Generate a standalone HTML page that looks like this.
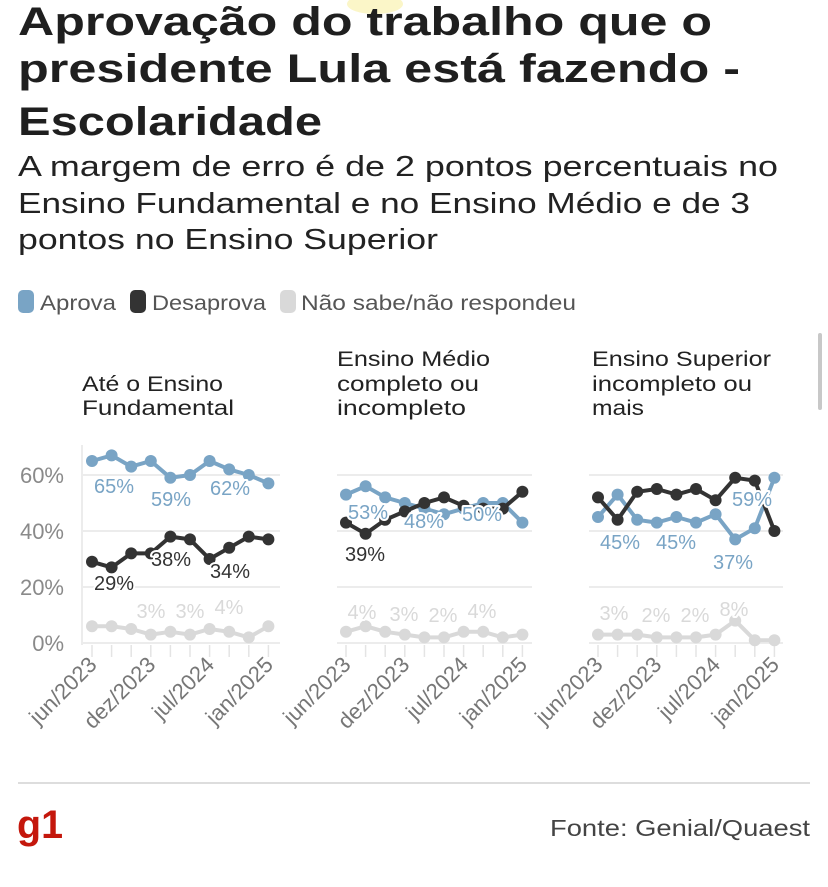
<!DOCTYPE html>
<html><head><meta charset="utf-8"><style>
html,body{margin:0;padding:0;background:#fff;width:828px;height:887px;overflow:hidden}
svg{display:block;font-family:"Liberation Sans",sans-serif}
</style></head><body>
<svg id="s" width="828" height="887" viewBox="0 0 828 887" xmlns="http://www.w3.org/2000/svg">
<ellipse cx="375" cy="4" rx="28" ry="10" fill="#fbf6c8"/>
<g fill="#1f1f1f" font-weight="bold" font-size="40">
<text x="18" y="35" textLength="694" lengthAdjust="spacingAndGlyphs">Aprovação do trabalho que o</text>
<text x="18" y="82" textLength="722" lengthAdjust="spacingAndGlyphs">presidente Lula está fazendo -</text>
<text x="18" y="135" textLength="304" lengthAdjust="spacingAndGlyphs">Escolaridade</text>
</g>
<g fill="#222" font-size="29">
<text x="18" y="176" textLength="760" lengthAdjust="spacingAndGlyphs">A margem de erro é de 2 pontos percentuais no</text>
<text x="18" y="213" textLength="732" lengthAdjust="spacingAndGlyphs">Ensino Fundamental e no Ensino Médio e de 3</text>
<text x="18" y="249" textLength="420" lengthAdjust="spacingAndGlyphs">pontos no Ensino Superior</text>
</g>
<g font-size="21" fill="#555">
<rect x="18" y="290" width="16" height="23" rx="5" fill="#79a4c5"/>
<text x="40" y="310" textLength="76" lengthAdjust="spacingAndGlyphs">Aprova</text>
<rect x="130" y="290" width="16" height="23" rx="5" fill="#333"/>
<text x="152" y="310" textLength="114" lengthAdjust="spacingAndGlyphs">Desaprova</text>
<rect x="280" y="290" width="16" height="23" rx="5" fill="#d9d9d9"/>
<text x="301" y="310" textLength="275" lengthAdjust="spacingAndGlyphs">Não sabe/não respondeu</text>
</g>
<rect x="818" y="333" width="4" height="77" rx="2" fill="#c8c8c8"/>
<g font-size="21" fill="#222">
<text x="82" y="391" textLength="141" lengthAdjust="spacingAndGlyphs">Até o Ensino</text>
<text x="82" y="415" textLength="152" lengthAdjust="spacingAndGlyphs">Fundamental</text>
<text x="337" y="366" textLength="153" lengthAdjust="spacingAndGlyphs">Ensino Médio</text>
<text x="337" y="391" textLength="142" lengthAdjust="spacingAndGlyphs">completo ou</text>
<text x="337" y="415" textLength="129" lengthAdjust="spacingAndGlyphs">incompleto</text>
<text x="592" y="366" textLength="179" lengthAdjust="spacingAndGlyphs">Ensino Superior</text>
<text x="592" y="391" textLength="160" lengthAdjust="spacingAndGlyphs">incompleto ou</text>
<text x="592" y="415" textLength="52" lengthAdjust="spacingAndGlyphs">mais</text>
</g>
<g id="charts"></g>
<line x1="18" y1="783" x2="810" y2="783" stroke="#ddd" stroke-width="2"/>
<text x="17" y="838" font-size="40" font-weight="bold" fill="#c4170c" textLength="46" lengthAdjust="spacingAndGlyphs">g1</text>
<text x="810" y="836" font-size="23" fill="#444" text-anchor="end" textLength="260" lengthAdjust="spacingAndGlyphs">Fonte: Genial/Quaest</text>
</svg>
<script>
var NS="http://www.w3.org/2000/svg",g=document.getElementById("charts");
function el(t,a,txt){var e=document.createElementNS(NS,t);for(var k in a)e.setAttribute(k,a[k]);if(txt)e.textContent=txt;g.appendChild(e);return e;}
function Y(v){return 643-v*2.8;}
var panels=[
{x0:92,gl:82,gr:280,axis:true,
 s:[[65,67,63,65,59,60,65,62,60,57],[29,27,32,32,38,37,30,34,38,37],[6,6,5,3,4,3,5,4,2,6]],
 L:[[0,"65%",114,492],[0,"59%",171,505],[0,"62%",230,494],[1,"29%",114,589],[1,"38%",171,565],[1,"34%",230,577],[2,"3%",151,617],[2,"3%",190,617],[2,"4%",229,613]]},
{x0:346,gl:337,gr:532,
 s:[[53,56,52,50,48,46,48,50,50,43],[43,39,44,47,50,52,49,48,48,54],[4,6,4,3,2,2,4,4,2,3]],
 L:[[0,"53%",368,518],[0,"48%",424,527],[0,"50%",482,520],[1,"39%",365,560],[2,"4%",362,618],[2,"3%",404,620],[2,"2%",443,621],[2,"4%",482,617]]},
{x0:598,gl:589,gr:783,
 s:[[45,53,44,43,45,43,46,37,41,59],[52,44,54,55,53,55,51,59,58,40],[3,3,3,2,2,2,3,8,1,1]],
 L:[[0,"45%",620,548],[0,"45%",676,548],[0,"37%",733,568],[0,"59%",752,505],[2,"3%",614,619],[2,"2%",656,621],[2,"2%",695,621],[2,"8%",734,615]]}
];
var cols=["#79a4c5","#333333","#d9d9d9"],ticks=["jun/2023","dez/2023","jul/2024","jan/2025"];
panels.forEach(function(p){
 [0,20,40,60].forEach(function(v){el("line",{x1:p.gl,x2:p.gr,y1:Y(v),y2:Y(v),stroke:"#ececec","stroke-width":2});
  if(p.axis)el("text",{x:64,y:Y(v)+8,"font-size":22,fill:"#8a8a8a","text-anchor":"end"},v+"%");});
 if(p.axis)el("line",{x1:82,x2:82,y1:445,y2:645,stroke:"#ececec","stroke-width":2});
 var st=19.6;
 for(var i=0;i<10;i++){var x=p.x0+i*st;el("line",{x1:x,x2:x,y1:645,y2:657,stroke:"#e4e4e4","stroke-width":1.5});}
 for(var j=0;j<4;j++){var x=p.x0+j*3*st+6;el("text",{x:x,y:666,"font-size":22,fill:"#777","text-anchor":"end",transform:"rotate(-45 "+x+" 666)"},ticks[j]);}
 [2,0,1].forEach(function(k){var pts=p.s[k].map(function(v,i){return (p.x0+i*st)+","+Y(v);}).join(" ");
  el("polyline",{points:pts,fill:"none",stroke:cols[k],"stroke-width":4,"stroke-linejoin":"round"});
  p.s[k].forEach(function(v,i){el("circle",{cx:p.x0+i*st,cy:Y(v),r:6,fill:cols[k]});});});
 p.L.forEach(function(l){el("text",{x:l[2],y:l[3]+1,"font-size":20,fill:l[0]==1?"#333":cols[l[0]],"text-anchor":"middle",stroke:"#fff","stroke-width":4,"paint-order":"stroke","stroke-linejoin":"round"},l[1]);});
});
</script>
</body></html>
